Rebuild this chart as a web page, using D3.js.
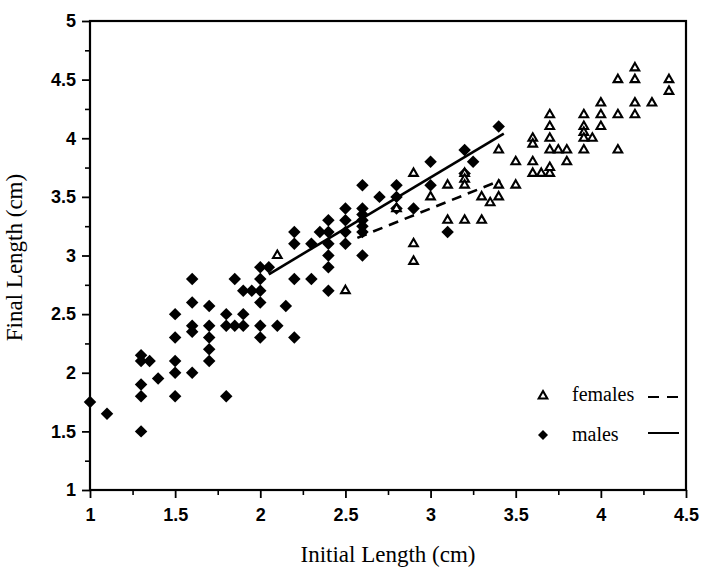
<!DOCTYPE html>
<html>
<head>
<meta charset="utf-8">
<script src="https://cdn.jsdelivr.net/npm/d3@7/dist/d3.min.js"></script>
<style>
  body { margin: 0; background: #fff; }
</style>
</head>
<body>
<div id="chart"></div>
<script>
// 读图估计的数据：初始长度 / 最终长度 (cm)
const femaleInitial = [2.1, 2.5, 2.8, 2.9, 2.9, 2.9, 3.0, 3.1, 3.1, 3.2, 3.2, 3.2, 3.2, 3.3, 3.3, 3.35, 3.4, 3.4, 3.4,
  3.5, 3.5, 3.6, 3.6, 3.6, 3.6, 3.65, 3.7, 3.7, 3.7, 3.7, 3.7, 3.7, 3.75, 3.8, 3.8,
  3.9, 3.9, 3.9, 3.9, 3.95, 3.9, 4.0, 4.0, 4.0, 4.1, 4.1, 4.1, 4.2, 4.2, 4.2, 4.2, 4.3, 4.4, 4.4];
const femaleFinal = [3.0, 2.7, 3.4, 3.7, 3.1, 2.95, 3.5, 3.6, 3.3, 3.7, 3.65, 3.6, 3.3, 3.5, 3.3, 3.45, 3.5, 3.6, 3.9,
  3.8, 3.6, 4.0, 3.95, 3.8, 3.7, 3.7, 3.7, 3.75, 3.9, 4.0, 4.1, 4.2, 3.9, 3.9, 3.8,
  4.2, 4.1, 4.05, 4.0, 4.0, 3.9, 4.3, 4.2, 4.1, 4.5, 4.2, 3.9, 4.6, 4.5, 4.3, 4.2, 4.3, 4.5, 4.4];

const maleInitial = [1.0, 1.1, 1.3, 1.3, 1.3, 1.3, 1.3, 1.35, 1.4, 1.5, 1.5, 1.5, 1.5, 1.5,
  1.6, 1.6, 1.6, 1.6, 1.6, 1.7, 1.7, 1.7, 1.7, 1.7, 1.8, 1.8, 1.8, 1.85, 1.85, 1.9, 1.9, 1.9, 1.95,
  2.0, 2.0, 2.0, 2.0, 2.0, 2.0, 2.05, 2.1, 2.15, 2.2, 2.2, 2.2, 2.2, 2.3, 2.3, 2.35,
  2.4, 2.4, 2.4, 2.4, 2.4, 2.4, 2.5, 2.5, 2.5, 2.5, 2.6, 2.6, 2.6, 2.6, 2.6, 2.6, 2.6,
  2.7, 2.8, 2.8, 2.8, 2.9, 3.0, 3.0, 3.1, 3.2, 3.2, 3.25, 3.4];
const maleFinal = [1.75, 1.65, 1.5, 1.8, 1.9, 2.1, 2.15, 2.1, 1.95, 1.8, 2.0, 2.1, 2.3, 2.5,
  2.0, 2.35, 2.4, 2.6, 2.8, 2.1, 2.2, 2.3, 2.4, 2.57, 1.8, 2.4, 2.5, 2.4, 2.8, 2.4, 2.5, 2.7, 2.7,
  2.3, 2.4, 2.6, 2.7, 2.8, 2.9, 2.9, 2.4, 2.57, 2.3, 2.8, 3.1, 3.2, 2.8, 3.1, 3.2,
  2.7, 2.9, 3.0, 3.1, 3.2, 3.3, 3.1, 3.2, 3.3, 3.4, 3.0, 3.2, 3.25, 3.3, 3.35, 3.4, 3.6,
  3.5, 3.4, 3.5, 3.6, 3.4, 3.6, 3.8, 3.2, 3.7, 3.9, 3.8, 4.1];

// 回归线端点
const femaleFitX = [2.57, 3.41];
const femaleFitY = [3.15, 3.64];
const maleFitX = [2.05, 3.43];
const maleFitY = [2.84, 4.04];

// 刻度
const xTicks = [1, 1.5, 2, 2.5, 3, 3.5, 4, 4.5];
const xMinorTicks = [1.25, 1.75, 2.25, 2.75, 3.25, 3.75, 4.25];
const yTicks = [1, 1.5, 2, 2.5, 3, 3.5, 4, 4.5, 5];
const yMinorTicks = [1.25, 1.75, 2.25, 2.75, 3.25, 3.75, 4.25, 4.75];

const width = 703;
const height = 569;
const margin = {top: 21, right: 17, bottom: 79, left: 90};
const innerW = width - margin.left - margin.right;
const innerH = height - margin.top - margin.bottom;

const svg = d3.select('#chart')
    .append('svg')
    .attr('width', width)
    .attr('height', height);

const g = svg.append('g')
    .attr('transform', `translate(${margin.left},${margin.top})`);

const x = d3.scaleLinear().domain([1, 4.5]).range([0, innerW]);
const y = d3.scaleLinear().domain([1, 5]).range([innerH, 0]);

const tickFont = '"Liberation Sans", Arial, sans-serif';
const titleFont = '"Liberation Serif", "Times New Roman", serif';

// 菱形符号
const diamond = {
    draw(ctx, size) {
        const r = Math.sqrt(size / 2);
        ctx.moveTo(0, -r);
        ctx.lineTo(r, 0);
        ctx.lineTo(0, r);
        ctx.lineTo(-r, 0);
        ctx.closePath();
    }
};
const diamondPath = d3.symbol(diamond, 78)();
const trianglePath = d3.symbol(d3.symbolTriangle, 32)();

// 次刻度
g.append('g')
    .attr('transform', `translate(0,${innerH})`)
    .call(d3.axisBottom(x).tickValues(xMinorTicks).tickSize(5).tickSizeOuter(0).tickFormat(''))
    .call(a => a.select('.domain').remove())
    .selectAll('line').attr('stroke-width', 1.6);
g.append('g')
    .call(d3.axisLeft(y).tickValues(yMinorTicks).tickSize(5).tickSizeOuter(0).tickFormat(''))
    .call(a => a.select('.domain').remove())
    .selectAll('line').attr('stroke-width', 1.6);

// 主刻度
const xAxis = g.append('g')
    .attr('transform', `translate(0,${innerH})`)
    .call(d3.axisBottom(x).tickValues(xTicks).tickSize(8).tickSizeOuter(0).tickPadding(10).tickFormat(d => String(d)));
const yAxis = g.append('g')
    .call(d3.axisLeft(y).tickValues(yTicks).tickSize(8).tickSizeOuter(0).tickPadding(6).tickFormat(d => String(d)));

[xAxis, yAxis].forEach(a => {
    a.select('.domain').remove();
    a.selectAll('line').attr('stroke-width', 1.8);
    a.selectAll('text')
        .attr('fill', '#000')
        .style('font-family', tickFont)
        .style('font-size', '18px')
        .style('font-weight', 'bold');
});

// 边框
g.append('rect')
    .attr('x', 0)
    .attr('y', 0)
    .attr('width', innerW)
    .attr('height', innerH)
    .attr('fill', 'none')
    .attr('stroke', '#000')
    .attr('stroke-width', 2.2);

// 雄性：实心菱形
g.selectAll('path.male')
    .data(d3.range(maleInitial.length))
    .join('path')
    .attr('class', 'male')
    .attr('d', diamondPath)
    .attr('transform', i => `translate(${x(maleInitial[i])},${y(maleFinal[i])})`)
    .attr('fill', '#000');

// 雌性：空心三角
g.selectAll('path.female')
    .data(d3.range(femaleInitial.length))
    .join('path')
    .attr('class', 'female')
    .attr('d', trianglePath)
    .attr('transform', i => `translate(${x(femaleInitial[i])},${y(femaleFinal[i])})`)
    .attr('fill', '#fff')
    .attr('stroke', '#000')
    .attr('stroke-width', 2.1);

// 回归线
const line = d3.line().x(d => x(d[0])).y(d => y(d[1]));
g.append('path')
    .datum(d3.zip(femaleFitX, femaleFitY))
    .attr('d', line)
    .attr('fill', 'none')
    .attr('stroke', '#000')
    .attr('stroke-width', 2.6)
    .attr('stroke-dasharray', '10,7');
g.append('path')
    .datum(d3.zip(maleFitX, maleFitY))
    .attr('d', line)
    .attr('fill', 'none')
    .attr('stroke', '#000')
    .attr('stroke-width', 2.6);

// 图例
const legend = svg.append('g').attr('transform', 'translate(543,0)');
legend.append('path')
    .attr('d', trianglePath)
    .attr('transform', 'translate(0,396)')
    .attr('fill', '#fff')
    .attr('stroke', '#000')
    .attr('stroke-width', 2.1);
legend.append('path')
    .attr('d', diamondPath)
    .attr('transform', 'translate(0,435) scale(0.8)')
    .attr('fill', '#000');
legend.append('text')
    .attr('x', 29).attr('y', 401)
    .style('font-family', titleFont).style('font-size', '20px')
    .text('females');
legend.append('text')
    .attr('x', 29).attr('y', 441)
    .style('font-family', titleFont).style('font-size', '20px')
    .text('males');
legend.append('line')
    .attr('x1', 105).attr('x2', 137).attr('y1', 397).attr('y2', 397)
    .attr('stroke', '#000').attr('stroke-width', 2)
    .attr('stroke-dasharray', '11,8');
legend.append('line')
    .attr('x1', 105).attr('x2', 136).attr('y1', 433).attr('y2', 433)
    .attr('stroke', '#000').attr('stroke-width', 2);

// 坐标轴标题
svg.append('text')
    .attr('x', margin.left + innerW / 2)
    .attr('y', 562)
    .attr('text-anchor', 'middle')
    .style('font-family', titleFont)
    .style('font-size', '23px')
    .text('Initial Length (cm)');
svg.append('text')
    .attr('transform', `translate(22,${margin.top + innerH / 2 + 2}) rotate(-90)`)
    .attr('text-anchor', 'middle')
    .style('font-family', titleFont)
    .style('font-size', '23px')
    .text('Final Length (cm)');
</script>
</body>
</html>
